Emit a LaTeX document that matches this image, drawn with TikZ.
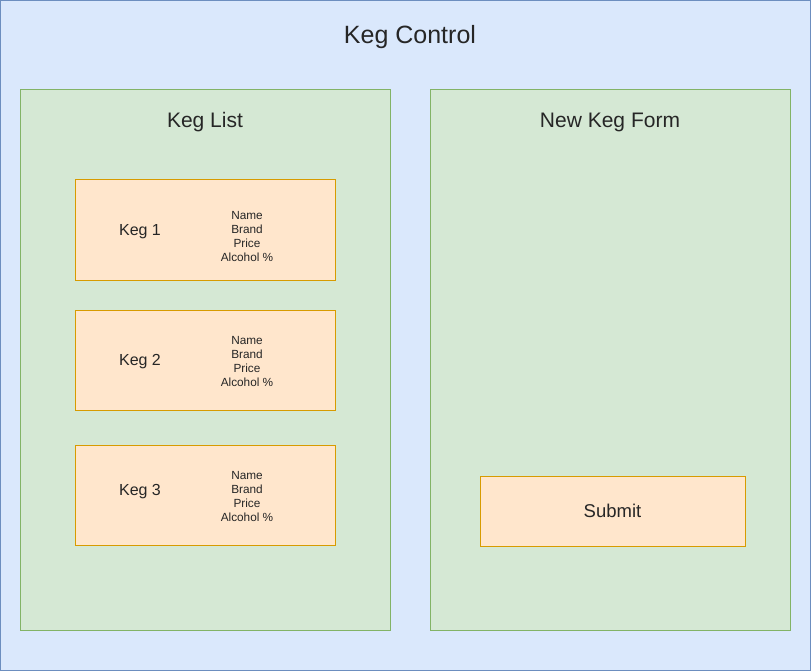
\documentclass[tikz,border=0pt]{standalone}
\usepackage{fontspec}
\setmainfont{Liberation Sans}
\usetikzlibrary{positioning}
\definecolor{bluefill}{HTML}{DAE8FC}
\definecolor{blueline}{HTML}{6C8EBF}
\definecolor{greenfill}{HTML}{D5E8D4}
\definecolor{greenline}{HTML}{82B366}
\definecolor{orangefill}{HTML}{FFE6CC}
\definecolor{orangeline}{HTML}{D79B00}
\tikzset{
	panel/.style={draw=greenline, fill=greenfill, line width=1pt, minimum width=#1, minimum height=540, inner sep=0pt},
	kegbox/.style={draw=orangeline, fill=orangefill, line width=1pt, minimum width=260, minimum height=100, inner sep=0pt},
	kegname/.style={font=\fontsize{16}{19}\selectfont, text=black!85},
	fields/.style={font=\fontsize{11.8}{14}\selectfont, align=center, text=black!85},
	heading/.style={font=\fontsize{21}{25}\selectfont, text=black!85}
}

\begin{document}
\begin{tikzpicture}[x=1pt, y=-1pt]
		%%%%% START %%%%%
		\useasboundingbox (0, 0) rectangle (811, 671);
		
		\draw[draw=blueline, fill=bluefill, line width=1pt] (0.5, 0.5) rectangle (810.5, 670.5);
		\node[font=\fontsize{25}{30}\selectfont, text=black!85] (title) at (410, 37) {Keg Control};
		
		\node[panel=370] (list) at (205, 360) {};
		\node[heading] (listtitle) at (205, 122) {Keg List};
		
		\node[panel=360] (form) at (610, 360) {};
		\node[heading] (formtitle) at (610, 122) {New Keg Form};
		
		\node[kegbox] (keg1) at (205, 230) {};
		\node[kegname] at (140, 232) {Keg 1};
		\node[fields] at (247, 236) {Name\\Brand\\Price\\Alcohol \%};
		
		\node[kegbox] (keg2) at (205, 360) {};
		\node[kegname] at (140, 362) {Keg 2};
		\node[fields] at (247, 361) {Name\\Brand\\Price\\Alcohol \%};
		
		\node[kegbox] (keg3) at (205, 495) {};
		\node[kegname] at (140, 492) {Keg 3};
		\node[fields] at (247, 496) {Name\\Brand\\Price\\Alcohol \%};
		
		\node[kegbox, minimum width=265, minimum height=70, font=\fontsize{18.5}{22}\selectfont, text=black!85] (submit) at (612.5, 511) {Submit};
		
		%%%%% END %%%%%
	\end{tikzpicture}
\end{document}
